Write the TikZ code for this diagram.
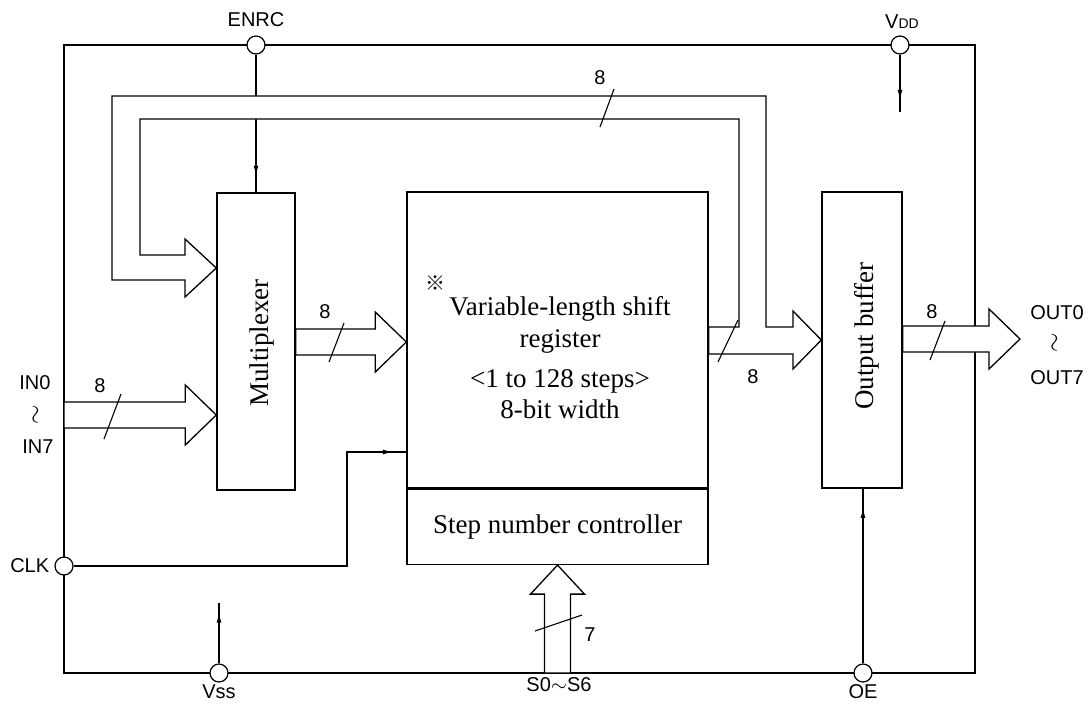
\documentclass[tikz,border=0pt]{standalone}
\usepackage{fontspec}
\setmainfont{Liberation Serif}
\setsansfont{Liberation Sans}
\newfontfamily\cjkfont{Noto Sans CJK JP}
\usetikzlibrary{positioning,arrows.meta,calc,decorations.markings}
\tikzset{
blockbox/.style={
draw,
line width=1.4pt,
inner sep=0pt,
font=\fontsize{27}{31}\selectfont
},
pin/.style={
circle,
draw,
fill=white,
line width=1.2pt,
minimum size=18pt,
inner sep=0pt
},
wire/.style={line width=1.3pt},
bus/.style={draw,fill=white,line width=1.3pt},
slash/.style={line width=1.1pt},
lbl/.style={font=\sffamily\fontsize{20}{22}\selectfont,inner sep=1pt},
rangemark/.style={rotate=90,inner sep=0pt,font=\fontsize{24}{24}\selectfont},
boxtext/.style={font=\fontsize{27}{31}\selectfont,align=center,inner sep=0pt},
midarrow/.style={
postaction={decorate},
decoration={markings,mark=at position #1 with {\arrow{Latex[length=10pt,width=5pt]}}}
}
}
% wide bus arrow pointing right: from the x of #1 to the tip #2
\newcommand{\busright}[2]{%
\draw[bus] let \p1=(#1), \p2=(#2) in
(\x1,\y2+13pt) -- (\x2-31pt,\y2+13pt) -- (\x2-31pt,\y2+30pt) -- (\p2)
-- (\x2-31pt,\y2-30pt) -- (\x2-31pt,\y2-13pt) -- (\x1,\y2-13pt) -- cycle;}

\begin{document}
\begin{tikzpicture}[x=1pt,y=-1pt]
\useasboundingbox (0,0) rectangle (1088,705);

% frame and pins
\coordinate (fnw) at (64,45);
\coordinate (fse) at (975,673);
\draw[wire] (fnw) rectangle (fse);
\node[pin] (enrc) at (256,45) {};
\node[pin] (vdd) at (900,45) {};
\node[pin] (clk) at (64,566) {};
\node[pin] (vss) at (219,673) {};
\node[pin] (oe) at (863,673) {};

% blocks
\node[blockbox,minimum width=78pt,minimum height=297pt] (mux) at (256,341.5) {};
\node[blockbox,minimum width=301pt,minimum height=296pt] (reg) at (557.5,340) {};
\node[blockbox,minimum width=301pt,minimum height=75pt,below=0pt of reg] (ctl) {Step number controller};
\node[blockbox,minimum width=80pt,minimum height=296pt] (obuf) at (862,340) {};

\node[boxtext,rotate=90] (muxtext) at (262,343) {Multiplexer};
\node[boxtext,rotate=90] (obuftext) at (867,336) {Output buffer};
\node[boxtext] (regtext) at (560,358) {Variable-length shift\\[1pt]register\\[9pt]<1 to 128 steps>\\8-bit width};
\node[font=\cjkfont\fontsize{20}{20}\selectfont,inner sep=0pt] (regmark) at (435,283) {※};

% control lines
\coordinate (vddend) at (900,112);
\coordinate (vssend) at (219,603);
\draw[wire,midarrow=0.88] (enrc) -- (mux.north);
\draw[wire,midarrow=0.79] (vdd) -- (vddend);
\draw[wire,midarrow=0.84] (vss) -- (vssend);
\draw[wire,midarrow=0.89] (oe) -- (oe |- obuf.south);
\draw[wire,midarrow=0.97] (clk) -| (347,452) -- (reg.west |- 0,452);

% buses
\busright{fnw}{mux.west |- 0,415}
\busright{mux.east}{reg.west |- 0,342}
\coordinate (outtip) at (1020,339);
\busright{obuf.east}{outtip}
\draw[bus] (reg.east |- 0,354) -- (793,354) -- (793,369) -- (obuf.west |- 0,340)
-- (793,311) -- (793,327) -- (766,327) -- (766,96) -- (112,96) -- (112,280)
-- (185,280) -- (185,297) -- (mux.west |- 0,268) -- (185,239) -- (185,255)
-- (140,255) -- (140,119) -- (739,119) -- (739,327) -- (reg.east |- 0,327) -- cycle;
\draw[bus] let \p1=(ctl.south), \p2=(fse) in
(\x1-13pt,\y2) -- (\x1-13pt,\y1-29pt) -- (\x1-27pt,\y1-29pt) -- (\p1)
-- (\x1+27pt,\y1-29pt) -- (\x1+13pt,\y1-29pt) -- (\x1+13pt,\y2) -- cycle;

% bus widths
\draw[slash] (614,89) -- (600,127);
\draw[slash] (121,394) -- (104,439);
\draw[slash] (344,323) -- (329,362);
\draw[slash] (738,320) -- (718,362);
\draw[slash] (945,321) -- (930,360);
\draw[slash] (535,631) -- (582,615);
\node[lbl] (wfb) at (600,78) {8};
\node[lbl] (win) at (100,386) {8};
\node[lbl] (wmux) at (325,312) {8};
\node[lbl] (wreg) at (753,377) {8};
\node[lbl] (wout) at (932,312) {8};
\node[lbl] (wstep) at (590,635) {7};

% pin names
\node[lbl] (enrclbl) at (256,20) {ENRC};
\node[lbl] (vddlbl) at (902,22) {V{\fontsize{14}{14}\selectfont DD}};
\node[lbl,left=4pt of clk] (clklbl) {CLK};
\node[lbl] (vsslbl) at (219,692) {Vss};
\node[lbl] (slbl) at (559,685) {S0$\sim$S6};
\node[lbl] (oelbl) at (863,692) {OE};
\node[lbl] (in0) at (35,383) {IN0};
\node[rangemark] (into) at (37,415) {$\sim$};
\node[lbl] (in7) at (38,447) {IN7};
\node[lbl] (out0) at (1057,313) {OUT0};
\node[rangemark] (outto) at (1056,343) {$\sim$};
\node[lbl] (out7) at (1057,378) {OUT7};
\end{tikzpicture}
\end{document}
